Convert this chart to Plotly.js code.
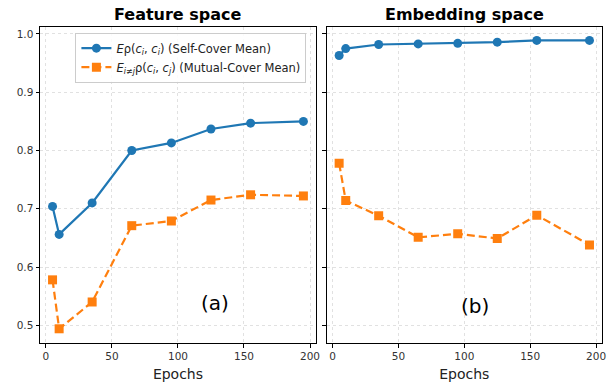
<!DOCTYPE html>
<html>
<head>
<meta charset="utf-8">
<script src="https://cdn.plot.ly/plotly-3.0.1.min.js"></script>
<style>
  body { margin: 0; background: #fff; }
  #chart { width: 608px; height: 382px; }
</style>
</head>
<body>
<div id="chart"></div>
<script>
// epochs at which both spaces were measured
const epochs = [5, 10, 35, 65, 95, 125, 155, 195];

// feature space
const featSelf = [0.704, 0.656, 0.710, 0.800, 0.813, 0.837, 0.847, 0.850];
const featMutual = [0.578, 0.494, 0.540, 0.671, 0.679, 0.715, 0.724, 0.722];

// embedding space
const embSelf = [0.963, 0.975, 0.982, 0.983, 0.984, 0.986, 0.989, 0.989];
const embMutual = [0.778, 0.714, 0.688, 0.651, 0.657, 0.649, 0.689, 0.638];

const xTicks = [0, 50, 100, 150, 200];
const yTicks = [0.5, 0.6, 0.7, 0.8, 0.9, 1.0];

const blue = '#1f77b4';
const orange = '#ff7f0e';

const selfName = '<i>E</i>ρ(<i>c<sub>i</sub></i>, <i>c<sub>i</sub></i>) (Self-Cover Mean)';
const mutualName = '<i>E<sub>i≠j</sub></i>ρ(<i>c<sub>i</sub></i>, <i>c<sub>j</sub></i>) (Mutual-Cover Mean)';

function selfTrace(y, xa, ya, show) {
    return {
        x: epochs, y: y, xaxis: xa, yaxis: ya,
        mode: 'lines+markers',
        line: { color: blue, width: 2.2 },
        marker: { color: blue, size: 9, symbol: 'circle' },
        name: selfName, showlegend: show
    };
}

function mutualTrace(y, xa, ya, show) {
    return {
        x: epochs, y: y, xaxis: xa, yaxis: ya,
        mode: 'lines+markers',
        line: { color: orange, width: 2.2, dash: '8px,4px' },
        marker: { color: orange, size: 9, symbol: 'square' },
        name: mutualName, showlegend: show
    };
}

let data = [
    selfTrace(featSelf, 'x', 'y', true),
    mutualTrace(featMutual, 'x', 'y', true),
    selfTrace(embSelf, 'x2', 'y2', false),
    mutualTrace(embMutual, 'x2', 'y2', false)
];

let xaxisBase = {
    range: [-4.5, 204.5],
    tickvals: xTicks,
    ticks: 'outside', ticklen: 3.5, tickcolor: '#000',
    showline: true, linecolor: '#000', linewidth: 1, mirror: true,
    showgrid: true, gridcolor: '#d9d9d9', griddash: 'dot', gridwidth: 0.8,
    zeroline: false,
    tickfont: { family: 'DejaVu Sans', size: 10.5, color: '#333' },
    title: { text: 'Epochs', font: { family: 'DejaVu Sans', size: 14, color: '#222' }, standoff: 9 }
};

let yaxisBase = {
    range: [0.4696, 1.012],
    tickvals: yTicks, tickformat: '.1f',
    ticks: 'outside', ticklen: 3.5, tickcolor: '#000',
    showline: true, linecolor: '#000', linewidth: 1, mirror: true,
    showgrid: true, gridcolor: '#d9d9d9', griddash: 'dot', gridwidth: 0.8,
    zeroline: false,
    tickfont: { family: 'DejaVu Sans', size: 10.5, color: '#333' }
};

let layout = {
    width: 608, height: 382,
    margin: { l: 40, r: 6, t: 27, b: 39 },
    paper_bgcolor: '#fff', plot_bgcolor: '#fff',
    showlegend: true,
    legend: {
        x: 0.063, y: 0.982, xanchor: 'left', yanchor: 'top',
        bgcolor: 'rgba(255,255,255,0.85)', bordercolor: '#cccccc', borderwidth: 1,
        font: { family: 'DejaVu Sans', size: 11.5, color: '#222' },
        tracegroupgap: 0
    },
    xaxis: Object.assign({}, xaxisBase, { domain: [0, 0.491], anchor: 'y' }),
    xaxis2: Object.assign({}, xaxisBase, { domain: [0.510, 1], anchor: 'y2' }),
    yaxis: Object.assign({}, yaxisBase, { anchor: 'x' }),
    // right panel shares the y scale but hides its labels
    yaxis2: Object.assign({}, yaxisBase, { anchor: 'x2', showticklabels: false, matches: 'y' }),
    annotations: [
        { text: '<b>Feature space</b>', xref: 'paper', yref: 'paper', x: 0.2455, y: 1,
          xanchor: 'center', yanchor: 'bottom', yshift: 1, showarrow: false,
          font: { family: 'DejaVu Sans', size: 16, color: '#000' } },
        { text: '<b>Embedding space</b>', xref: 'paper', yref: 'paper', x: 0.755, y: 1,
          xanchor: 'center', yanchor: 'bottom', yshift: 1, showarrow: false,
          font: { family: 'DejaVu Sans', size: 16, color: '#000' } },
        { text: '(a)', xref: 'x', yref: 'y', x: 128, y: 0.538, showarrow: false,
          font: { family: 'DejaVu Sans', size: 20, color: '#000' } },
        { text: '(b)', xref: 'x2', yref: 'y2', x: 108, y: 0.533, showarrow: false,
          font: { family: 'DejaVu Sans', size: 20, color: '#000' } }
    ]
};

Plotly.newPlot('chart', data, layout, { staticPlot: true });
</script>
</body>
</html>
